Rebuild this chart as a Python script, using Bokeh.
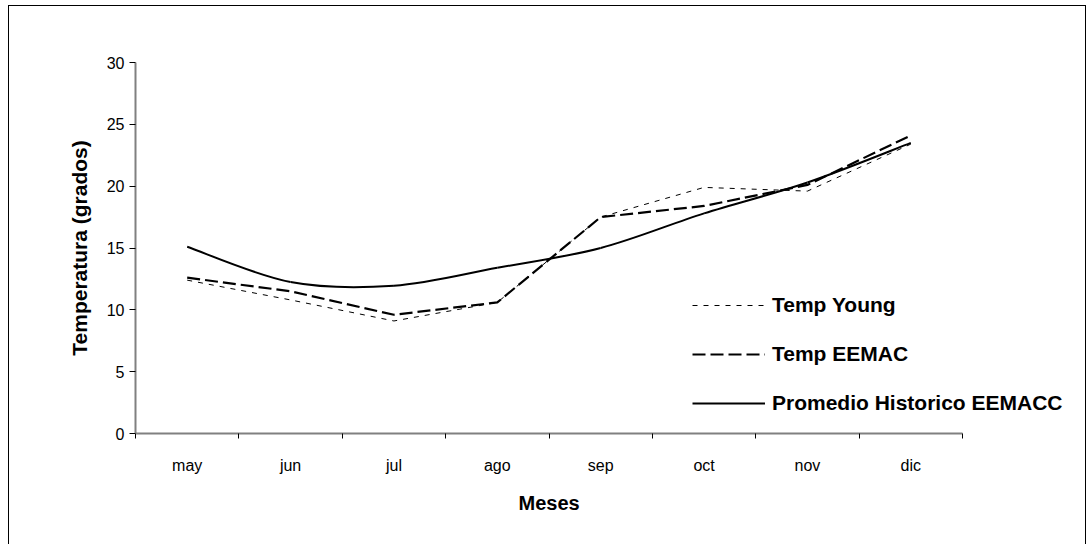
import numpy as np
from bokeh.plotting import figure
from bokeh.models import (ColumnDataSource, FixedTicker, Legend, LegendItem, Range1d, Title)
from bokeh.embed import file_html
from bokeh.resources import INLINE

# Monthly mean temperatures (degrees C), May to December
months = ["may", "jun", "jul", "ago", "sep", "oct", "nov", "dic"]
temp_young = [12.4, 10.8, 9.1, 10.6, 17.5, 19.9, 19.6, 23.4]
temp_eemac = [12.6, 11.5, 9.6, 10.6, 17.5, 18.4, 20.1, 24.1]
promedio_historico = [15.1, 12.25, 11.95, 13.4, 15.0, 17.8, 20.3, 23.5]
y_ticks = [0, 5, 10, 15, 20, 25, 30]

FONT = "Liberation Sans"

# each month sits in the middle of its own slot on a numeric axis;
# the frame runs on past the last slot so the legend has room at the right
W, H = 1078, 540
LEFT, TOP, BOTTOM = 126, 56, 113
SLOT_PX = 827 / len(months)
x_end = (W - LEFT) / SLOT_PX
xc = np.arange(len(months)) + 0.5

p = figure(width=W, height=H, x_range=Range1d(0, x_end),
           y_range=Range1d(0, 30), output_backend="svg", toolbar_location=None,
           min_border_left=LEFT, min_border_right=0, min_border_top=TOP,
           min_border_bottom=BOTTOM)
p.styles = {"border": "1px solid #000000", "margin-left": "8px", "margin-top": "5px"}
p.outline_line_color = None
p.xgrid.visible = False
p.ygrid.visible = False
p.background_fill_color = "white"
p.border_fill_color = "white"

# observed series as straight segments
r_young = p.line(xc, temp_young, line_color="black", line_width=1,
                 line_dash="5 6")
r_eemac = p.line(xc, temp_eemac, line_color="black", line_width=2.2,
                 line_dash="13 5")

# historical average drawn as a smoothed curve (cubic Bezier through the points)
px = np.concatenate([[xc[0]], xc, [xc[-1]]])
py = np.concatenate([[promedio_historico[0]], promedio_historico, [promedio_historico[-1]]])
seg = dict(x0=[], y0=[], x1=[], y1=[], cx0=[], cy0=[], cx1=[], cy1=[])
for i in range(1, len(px) - 2):
    seg["x0"].append(px[i]); seg["y0"].append(py[i])
    seg["x1"].append(px[i + 1]); seg["y1"].append(py[i + 1])
    seg["cx0"].append(px[i] + (px[i + 1] - px[i - 1]) / 6)
    seg["cy0"].append(py[i] + (py[i + 1] - py[i - 1]) / 6)
    seg["cx1"].append(px[i + 1] - (px[i + 2] - px[i]) / 6)
    seg["cy1"].append(py[i + 1] - (py[i + 2] - py[i]) / 6)
r_hist = p.bezier(x0="x0", y0="y0", x1="x1", y1="y1", cx0="cx0", cy0="cy0",
                  cx1="cx1", cy1="cy1", source=ColumnDataSource(seg),
                  line_color="black", line_width=2)

# x axis: labels centred in each slot, tick marks on the slot boundaries
xax = p.xaxis[0]
xax.ticker = FixedTicker(ticks=list(xc), minor_ticks=list(range(len(months) + 1)))
xax.bounds = (0, len(months))
xax.major_label_overrides = {float(v): m for v, m in zip(xc, months)}
xax.major_tick_line_color = None
xax.major_tick_out = 5
xax.major_tick_in = 0
xax.minor_tick_line_color = "black"
xax.minor_tick_out = 5
xax.minor_tick_in = 0

yax = p.yaxis[0]
yax.ticker = FixedTicker(ticks=y_ticks, minor_ticks=[])
yax.major_tick_line_color = "black"
yax.major_tick_out = 6
yax.major_tick_in = 0
yax.minor_tick_line_color = None
yax.axis_label = "Temperatura (grados)"

for ax in (xax, yax):
    ax.axis_line_color = "#808080"
    ax.axis_line_width = 2
    ax.major_label_text_font = FONT
    ax.major_label_text_font_size = "16px"
    ax.major_label_text_color = "black"
    ax.axis_label_text_font = FONT
    ax.axis_label_text_font_style = "bold"
    ax.axis_label_text_color = "black"

xax.major_label_standoff = 18
yax.major_label_standoff = 5
yax.axis_label_text_font_size = "21px"
yax.axis_label_standoff = 13

# x axis title, placed under the middle of the month slots
x_title = Title(text="Meses", align="left", offset=383, standoff=27,
                text_font=FONT, text_font_style="bold", text_font_size="20px",
                text_color="black")
p.add_layout(x_title, "below")

legend = Legend(items=[
    LegendItem(label="Temp Young", renderers=[r_young]),
    LegendItem(label="Temp EEMAC", renderers=[r_eemac]),
    LegendItem(label="Promedio Historico EEMACC", renderers=[r_hist]),
], location=(557, 18), orientation="vertical")
legend.padding = 0
legend.margin = 0
legend.border_line_color = None
legend.background_fill_alpha = 0
legend.glyph_width = 73
legend.glyph_height = 24
legend.label_height = 24
legend.spacing = 25
legend.label_standoff = 7
legend.label_text_font = FONT
legend.label_text_font_style = "bold"
legend.label_text_font_size = "21px"
legend.label_text_color = "black"
p.add_layout(legend, "center")

open("out.html", "w").write(file_html(p, INLINE))
